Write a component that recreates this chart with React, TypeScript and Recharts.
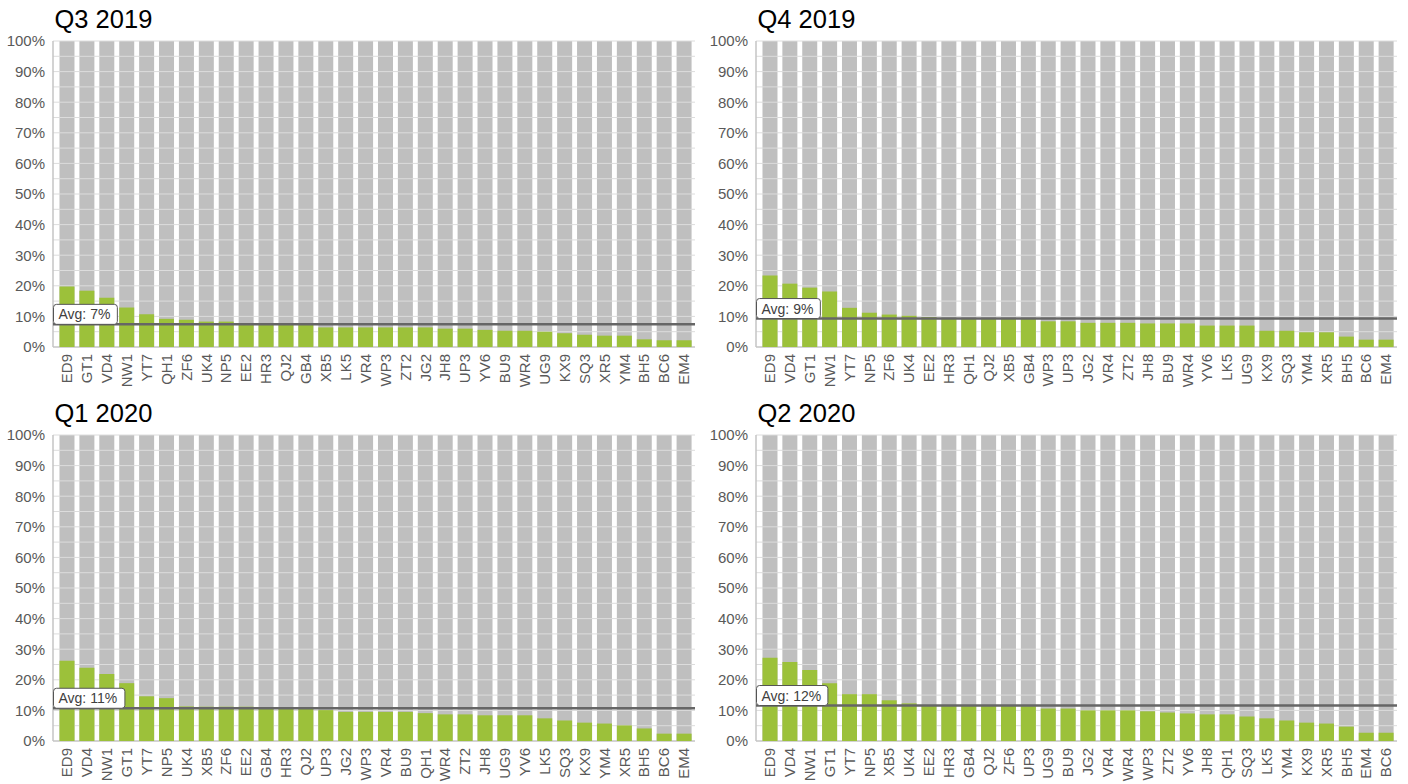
import React from 'react';
import { BarChart, Bar, XAxis, YAxis, ReferenceLine } from 'recharts';

const titles = ['Q3 2019', 'Q4 2019', 'Q1 2020', 'Q2 2020'];

const catsQ3 = ['ED9', 'GT1', 'VD4', 'NW1', 'YT7', 'QH1', 'ZF6', 'UK4', 'NP5', 'EE2', 'HR3', 'QJ2', 'GB4', 'XB5', 'LK5', 'VR4', 'WP3', 'ZT2', 'JG2', 'JH8', 'UP3', 'YV6', 'BU9', 'WR4', 'UG9', 'KX9', 'SQ3', 'XR5', 'YM4', 'BH5', 'BC6', 'EM4'];
const valsQ3 = [19.8, 18.4, 16.1, 12.9, 10.7, 9.2, 8.9, 8.3, 8.3, 7.6, 7.6, 7.5, 7.5, 6.4, 6.4, 6.4, 6.4, 6.4, 6.4, 6.0, 6.0, 5.6, 5.3, 5.3, 5.0, 4.5, 4.0, 3.7, 3.7, 2.5, 2.2, 2.2];

const catsQ4 = ['ED9', 'VD4', 'GT1', 'NW1', 'YT7', 'NP5', 'ZF6', 'UK4', 'EE2', 'HR3', 'QH1', 'QJ2', 'XB5', 'GB4', 'WP3', 'UP3', 'JG2', 'VR4', 'ZT2', 'JH8', 'BU9', 'WR4', 'YV6', 'LK5', 'UG9', 'KX9', 'SQ3', 'YM4', 'XR5', 'BH5', 'BC6', 'EM4'];
const valsQ4 = [23.4, 20.7, 19.4, 18.1, 12.8, 11.2, 10.6, 10.2, 9.8, 9.5, 9.4, 9.4, 9.4, 9.3, 8.4, 8.4, 7.9, 7.9, 7.9, 7.7, 7.7, 7.7, 7.0, 7.0, 7.0, 5.3, 5.3, 4.8, 4.8, 3.4, 2.4, 2.4];

const catsQ1 = ['ED9', 'VD4', 'NW1', 'GT1', 'YT7', 'NP5', 'UK4', 'XB5', 'ZF6', 'EE2', 'GB4', 'HR3', 'QJ2', 'UP3', 'JG2', 'WP3', 'VR4', 'BU9', 'QH1', 'WR4', 'ZT2', 'JH8', 'UG9', 'YV6', 'LK5', 'SQ3', 'KX9', 'YM4', 'XR5', 'BH5', 'BC6', 'EM4'];
const valsQ1 = [26.2, 23.9, 21.9, 18.9, 14.6, 14.0, 11.3, 11.2, 11.2, 11.2, 10.9, 10.8, 10.8, 10.1, 9.5, 9.5, 9.5, 9.5, 9.1, 8.7, 8.7, 8.4, 8.4, 8.4, 7.4, 6.7, 6.0, 5.7, 5.1, 4.1, 2.4, 2.4];

const catsQ2 = ['ED9', 'VD4', 'NW1', 'GT1', 'YT7', 'NP5', 'XB5', 'UK4', 'EE2', 'HR3', 'GB4', 'QJ2', 'ZF6', 'UP3', 'UG9', 'BU9', 'JG2', 'VR4', 'WR4', 'WP3', 'ZT2', 'YV6', 'JH8', 'QH1', 'SQ3', 'LK5', 'YM4', 'KX9', 'XR5', 'BH5', 'EM4', 'BC6'];
const valsQ2 = [27.2, 25.8, 23.2, 18.9, 15.3, 15.3, 13.3, 12.3, 11.7, 11.6, 11.6, 11.5, 11.5, 11.4, 10.6, 10.6, 10.0, 10.0, 10.0, 9.7, 9.3, 9.0, 8.7, 8.7, 8.0, 7.4, 6.7, 6.0, 5.7, 4.7, 2.7, 2.7];

const averages = [7.4, 9.3, 10.7, 11.6];

const yTicks = [0, 10, 20, 30, 40, 50, 60, 70, 80, 90, 100];
const gridLevels = [5, 10, 15, 20, 25, 30, 35, 40, 45, 50, 55, 60, 65, 70, 75, 80, 85, 90, 95, 100];

const GREEN = '#9cc13a';
const GRAY = '#bfbfbf';
const AXIS = '#c4c4c4';
const TEXT = '#595959';
const FONT = '"Liberation Sans", Arial, sans-serif';

const RotTick = (props: any) => {
  const { x, y, payload } = props;
  return (
    <g transform={`translate(${x},${y})`}>
      <text transform="rotate(-90)" x={0} y={0} dy="0.35em" textAnchor="end" fill={TEXT} fontSize={15} fontFamily={FONT}>
        {payload.value}
      </text>
    </g>
  );
};

const makeAvgLabel = (txt: string) => (props: any) => {
  const vb = props.viewBox || {};
  const w = txt.length * 7.55 + 11;
  return (
    <g>
      <rect x={vb.x + 0.5} y={vb.y - 20} width={w} height={20} rx={3} ry={3} fill="#ffffff" stroke="#555555" strokeWidth={1} />
      <text x={vb.x + 5.5} y={vb.y - 5} fontSize={14} fill="#404040" fontFamily={FONT}>{txt}</text>
    </g>
  );
};

type PanelProps = {
  title: string;
  cats: string[];
  vals: number[];
  avg: number;
  left: number;
  top: number;
  yw: number;
  mr: number;
};

const Panel = ({ title, cats, vals, avg, left, top, yw, mr }: PanelProps) => {
  const data = cats.map((c, i) => ({ cat: c, v: vals[i], full: 100 }));
  const avgText = `Avg: ${Math.round(avg)}%`;
  const margin = { top: 41, right: mr, bottom: 0, left: 0 };
  return (
    <div style={{ position: 'absolute', left, top, width: 704, height: 392 }}>
      <div style={{ position: 'absolute', left: yw + 1.5, top: 6.5, fontSize: 25.5, lineHeight: '25px', color: '#000', fontFamily: FONT, whiteSpace: 'nowrap' }}>
        {title}
      </div>
      <div style={{ position: 'absolute', left: 0, top: 0 }}>
        <BarChart width={704} height={392} data={data} margin={margin} barCategoryGap="12.5%">
          <XAxis dataKey="cat" interval={0} height={45} tick={RotTick} tickMargin={1} axisLine={{ stroke: AXIS, strokeWidth: 1.5 }} tickLine={false} padding={{ left: 4, right: 1 }} />
          <YAxis yAxisId="l" domain={[0, 100]} ticks={yTicks} interval={0} width={yw} tickFormatter={(v: number) => `${v}%`} axisLine={{ stroke: AXIS, strokeWidth: 1.5 }} tickLine={false} tick={{ fill: TEXT, fontSize: 15, fontFamily: FONT }} />
          <YAxis yAxisId="r" orientation="right" domain={[0, 100]} width={0} tick={false} tickLine={false} axisLine={{ stroke: AXIS, strokeWidth: 1.5 }} />
          <Bar yAxisId="l" dataKey="full" fill={GRAY} isAnimationActive={false} />
          {gridLevels.map((g) => (
            <ReferenceLine key={g} yAxisId="l" y={g} stroke="#dcdcdc" strokeWidth={1} />
          ))}
        </BarChart>
      </div>
      <div style={{ position: 'absolute', left: 0, top: 0 }}>
        <BarChart width={704} height={392} data={data} margin={margin} barCategoryGap="12.5%">
          <XAxis dataKey="cat" interval={0} height={45} tick={false} axisLine={false} tickLine={false} padding={{ left: 4, right: 1 }} />
          <YAxis yAxisId="l" domain={[0, 100]} ticks={yTicks} width={yw} tick={false} axisLine={false} tickLine={false} />
          <YAxis yAxisId="r" orientation="right" domain={[0, 100]} width={0} tick={false} tickLine={false} axisLine={false} />
          <Bar yAxisId="l" dataKey="v" fill={GREEN} isAnimationActive={false} />
          <ReferenceLine yAxisId="l" y={avg} stroke="#666666" strokeWidth={2.5} label={makeAvgLabel(avgText)} />
        </BarChart>
      </div>
    </div>
  );
};

export default function App() {
  return (
    <div style={{ position: 'fixed', left: 0, top: 0, width: 1408, height: 784, background: '#ffffff', fontFamily: FONT }}>
      <Panel title={titles[0]} cats={catsQ3} vals={valsQ3} avg={averages[0]} left={0} top={0} yw={53} mr={9} />
      <Panel title={titles[1]} cats={catsQ4} vals={valsQ4} avg={averages[1]} left={704} top={0} yw={52} mr={11} />
      <Panel title={titles[2]} cats={catsQ1} vals={valsQ1} avg={averages[2]} left={0} top={394} yw={53} mr={9} />
      <Panel title={titles[3]} cats={catsQ2} vals={valsQ2} avg={averages[3]} left={704} top={394} yw={52} mr={11} />
    </div>
  );
}
